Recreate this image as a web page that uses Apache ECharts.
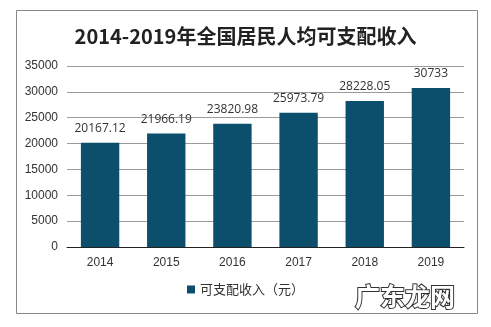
<!DOCTYPE html>
<html><head><meta charset="utf-8">
<script src="https://cdn.jsdelivr.net/npm/echarts@6/dist/echarts.min.js"></script>
<style>html,body{margin:0;padding:0;background:#fff}#c{width:491px;height:327px}</style>
</head><body><div id="c"></div>
<script>
const categories = ['2014','2015','2016','2017','2018','2019'];
const income = [20167.12, 21966.19, 23820.98, 25973.79, 28228.05, 30733];
const seriesName = '可支配收入（元）';
const titleText = '2014-2019年全国居民人均可支配收入';
const watermark = '广东龙网';

const chart = echarts.init(document.getElementById('c'));
chart.setOption({
  backgroundColor: '#fff',
  animation: false,
  title: {
    text: titleText, left: 'center', top: 21,
    textStyle: {fontFamily: 'Noto Sans CJK SC', fontWeight: 'bold', fontSize: 20, color: '#222'}
  },
  grid: {left: 67, right: 27, top: 66, bottom: 80},
  legend: {
    data: [seriesName], bottom: 26, left: 'center',
    itemWidth: 8, itemHeight: 8, icon: 'rect', itemGap: 6,
    textStyle: {fontFamily: 'Noto Sans CJK SC', fontSize: 13, color: '#333'}
  },
  xAxis: {
    type: 'category', data: categories,
    axisLine: {lineStyle: {color: '#222', width: 1}},
    axisTick: {show: false},
    axisLabel: {fontFamily: 'Liberation Sans', fontSize: 12, color: '#333', margin: 10}
  },
  yAxis: {
    type: 'value', min: 0, max: 35000, interval: 5000,
    axisLine: {show: false}, axisTick: {show: false},
    axisLabel: {fontFamily: 'Liberation Sans', fontSize: 12, color: '#333', margin: 9, formatter: v => String(v)},
    splitLine: {lineStyle: {color: '#9a9a9a', width: 1}}
  },
  series: [{
    name: seriesName, type: 'bar', data: income, barWidth: '58%',
    itemStyle: {color: '#0b4f6c'},
    label: {show: true, position: 'top', distance: 8, fontFamily: 'Open Sans', fontSize: 12, color: '#333'}
  }],
  graphic: [
    {type: 'rect', shape: {x: 16.5, y: 10.5, width: 461, height: 303}, style: {fill: 'none', stroke: '#888', lineWidth: 1}, silent: true, z: -1},
    {type: 'text', left: 354, top: 283, style: {text: watermark, fontFamily: 'Noto Sans CJK SC', fontWeight: 'bold', fontSize: 25, fill: '#fff', stroke: '#333', lineWidth: 2}, z: 100}
  ]
});
</script></body></html>
